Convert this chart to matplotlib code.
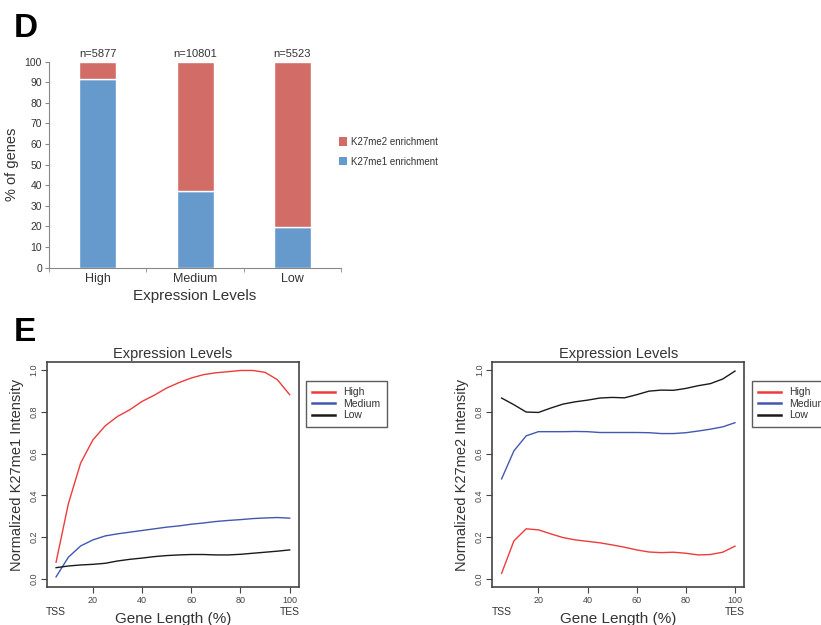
import numpy as np
import matplotlib
matplotlib.use("Agg")
import matplotlib.pyplot as plt
from matplotlib.patches import Patch

plt.rcParams['font.family'] = ['Liberation Sans', 'DejaVu Sans']

# Panel D data
levels = ['High', 'Medium', 'Low']
counts = ['n=5877', 'n=10801', 'n=5523']
me1_pct = [91.6, 37.2, 19.6]
me2_pct = [100 - v for v in me1_pct]

# Panel E data
gene_pos = [5, 10, 15, 20, 25, 30, 35, 40, 45, 50, 55, 60, 65, 70, 75, 80, 85, 90, 95, 100]
me1_high = [0.08, 0.36, 0.555, 0.666, 0.733, 0.778, 0.81, 0.85, 0.88, 0.914, 0.94, 0.962,
            0.978, 0.987, 0.992, 0.998, 0.998, 0.989, 0.954, 0.882]
me1_medium = [0.01, 0.104, 0.158, 0.187, 0.206, 0.216, 0.224, 0.232, 0.24, 0.248, 0.254, 0.262,
              0.268, 0.275, 0.28, 0.284, 0.289, 0.292, 0.294, 0.291]
me1_low = [0.054, 0.062, 0.067, 0.07, 0.075, 0.086, 0.094, 0.1, 0.107, 0.112, 0.115, 0.117,
           0.117, 0.115, 0.115, 0.118, 0.123, 0.128, 0.133, 0.139]
me2_high = [0.027, 0.182, 0.24, 0.235, 0.216, 0.198, 0.187, 0.18, 0.173, 0.163, 0.152, 0.139,
            0.129, 0.126, 0.128, 0.123, 0.115, 0.117, 0.128, 0.157]
me2_medium = [0.479, 0.613, 0.685, 0.705, 0.705, 0.705, 0.706, 0.705, 0.701, 0.701, 0.701, 0.701,
              0.70, 0.696, 0.696, 0.70, 0.708, 0.717, 0.728, 0.748]
me2_low = [0.866, 0.834, 0.799, 0.797, 0.818, 0.837, 0.848, 0.856, 0.866, 0.869, 0.867, 0.882,
           0.899, 0.904, 0.903, 0.912, 0.925, 0.935, 0.957, 0.995]

red_bar = '#D26C66'
blue_bar = '#6699CC'
line_cols = ['#EE3B3B', '#4257B2', '#1A1A1A']
txt = '#333333'

fig = plt.figure(figsize=(8.21, 6.25), dpi=100)

# ---- Panel D ----
axd = fig.add_axes([0.0597, 0.5717, 0.3557, 0.3296])
x = np.arange(len(levels))
axd.bar(x, me1_pct, width=0.38, color=blue_bar, edgecolor='white', linewidth=1)
axd.bar(x, me2_pct, bottom=me1_pct, width=0.38, color=red_bar, edgecolor='white', linewidth=1)
axd.set_xlim(-0.5, 2.5)
axd.set_ylim(0, 100)
axd.set_yticks(range(0, 101, 10))
axd.set_xticks(x)
axd.set_xticklabels(levels, fontsize=9, color=txt)
axd.set_xticks([-0.5, 0.5, 1.5, 2.5], minor=True)
axd.tick_params(axis='x', which='major', length=0, pad=4)
axd.tick_params(axis='x', which='minor', length=3, color='#888888')
axd.tick_params(axis='y', labelsize=7.5, labelcolor=txt, length=3, color='#888888', pad=2)
for s in ['top', 'right']:
    axd.spines[s].set_visible(False)
for s in ['left', 'bottom']:
    axd.spines[s].set_color('#888888')
    axd.spines[s].set_linewidth(0.8)
axd.set_ylabel('% of genes', fontsize=10.5, color=txt, labelpad=4)
axd.set_xlabel('Expression Levels', fontsize=11, color=txt, labelpad=3)
for xi, c in zip(x, counts):
    axd.text(xi, 101.5, c, ha='center', va='bottom', fontsize=8, color=txt)
handles = [Patch(facecolor=red_bar, label='K27me2 enrichment'),
           Patch(facecolor=blue_bar, label='K27me1 enrichment')]
fig.legend(handles=handles, loc='upper left', bbox_to_anchor=(0.402, 0.795), frameon=False,
           fontsize=7, handlelength=0.8, handleheight=0.9, handletextpad=0.5,
           labelspacing=1.0, labelcolor=txt)

fig.text(0.017, 0.955, 'D', fontsize=24, fontweight='bold', va='center', ha='left')
fig.text(0.017, 0.468, 'E', fontsize=24, fontweight='bold', va='center', ha='left')


# ---- Panel E ----
def profile(ax, high, med, low, ylabel, leg_x):
    for vals, col, lab in zip([high, med, low], line_cols, ['High', 'Medium', 'Low']):
        ax.plot(gene_pos, vals, color=col, linewidth=1.0, label=lab)
    ax.set_xlim(1.2, 103.8)
    ax.set_ylim(-0.04, 1.04)
    ax.set_xticks([20, 40, 60, 80, 100])
    ax.set_yticks([0.0, 0.2, 0.4, 0.6, 0.8, 1.0])
    ax.set_yticklabels(['0.0', '0.2', '0.4', '0.6', '0.8', '1.0'], rotation=90, va='center')
    ax.tick_params(labelsize=6.5, labelcolor='#444444', length=4, color='#444444', width=0.8, pad=2)
    for s in ax.spines.values():
        s.set_color('#444444')
        s.set_linewidth(1.2)
    ax.set_title('Expression Levels', fontsize=10.5, color=txt, pad=3)
    ax.set_ylabel(ylabel, fontsize=10.5, color=txt, labelpad=4)
    ax.set_xlabel('Gene Length (%)', fontsize=11, color=txt, labelpad=5)
    for xv, lab in [(5, 'TSS'), (100, 'TES')]:
        ax.annotate(lab, xy=(xv, 0), xycoords=('data', 'axes fraction'), xytext=(0, -14),
                    textcoords='offset points', ha='center', va='top', fontsize=7.5, color=txt)
    leg = ax.legend(loc='upper left', bbox_to_anchor=(leg_x, 0.3904), bbox_transform=fig.transFigure,
                    fontsize=7.5, fancybox=False, edgecolor='#333333', handlelength=2.2,
                    labelspacing=0.15, borderpad=0.6, borderaxespad=0, labelcolor=txt)
    leg.get_frame().set_linewidth(1.0)
    for h in leg.get_lines():
        h.set_linewidth(1.8)


ax1 = fig.add_axes([0.0569, 0.0603, 0.3073, 0.361])
profile(ax1, me1_high, me1_medium, me1_low, 'Normalized K27me1 Intensity', 0.3727)
ax2 = fig.add_axes([0.5996, 0.0603, 0.307, 0.361])
profile(ax2, me2_high, me2_medium, me2_low, 'Normalized K27me2 Intensity', 0.9156)

fig.savefig('out.png', dpi=100)
